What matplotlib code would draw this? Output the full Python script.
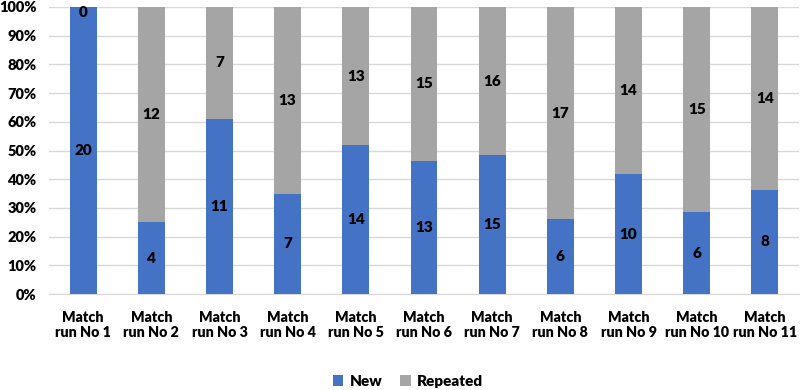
import numpy as np
import matplotlib
matplotlib.use('Agg')
import matplotlib.pyplot as plt
from matplotlib.ticker import PercentFormatter

plt.rcParams['font.family'] = ['Lato', 'DejaVu Sans']

categories = [f'Match\nrun No {i}' for i in range(1, 12)]
new = [20, 4, 11, 7, 14, 13, 15, 6, 10, 6, 8]
repeated = [0, 12, 7, 13, 13, 15, 16, 17, 14, 15, 14]

new_a = np.array(new, float)
rep_a = np.array(repeated, float)
tot = new_a + rep_a
new_p = new_a / tot * 100
rep_p = rep_a / tot * 100

FS = 11
WT = 'heavy'

fig = plt.figure(figsize=(8, 3.9), dpi=100)
ax = fig.add_axes([49 / 800, 96 / 390, 750 / 800, 287 / 390])
x = np.arange(len(categories))
w = 0.395
ax.bar(x, new_p, w, color='#4472C4', label='New', zorder=3)
ax.bar(x, rep_p, w, bottom=new_p, color='#A5A5A5', label='Repeated', zorder=3)

for i in range(len(x)):
    ax.text(x[i], new_p[i] / 2, str(new[i]), ha='center', va='center',
            fontsize=FS, fontweight=WT, color='black', zorder=4)
    if repeated[i] == 0:
        ax.text(x[i], 100.5, str(repeated[i]), ha='center', va='top',
                fontsize=FS, fontweight=WT, color='black', zorder=4)
    else:
        ax.text(x[i], new_p[i] + rep_p[i] / 2, str(repeated[i]), ha='center',
                va='center', fontsize=FS, fontweight=WT, color='black', zorder=4)

ax.set_ylim(0, 100)
ax.set_xlim(-0.5, 10.5)
ax.set_yticks(np.arange(0, 101, 10))
ax.yaxis.set_major_formatter(PercentFormatter(decimals=0))
ax.set_xticks(x)
ax.set_xticklabels(categories, fontsize=10.3, fontweight=WT)
for t in ax.get_yticklabels():
    t.set_fontweight(WT)
    t.set_fontsize(10.5)
ax.tick_params(axis='both', length=0)
ax.tick_params(axis='y', pad=9)
ax.tick_params(axis='x', pad=12)
ax.grid(axis='y', color='#D9D9D9', linewidth=1, zorder=0)
for s in ['top', 'right', 'left']:
    ax.spines[s].set_visible(False)
ax.spines['bottom'].set_color('#D9D9D9')

fig.legend(loc='lower center', ncol=2, frameon=False, bbox_to_anchor=(0.51, -0.03),
           prop={'weight': WT, 'size': FS}, handlelength=0.7, handleheight=0.7,
           columnspacing=1.2, handletextpad=0.4)

fig.savefig('out.png', dpi=100)
